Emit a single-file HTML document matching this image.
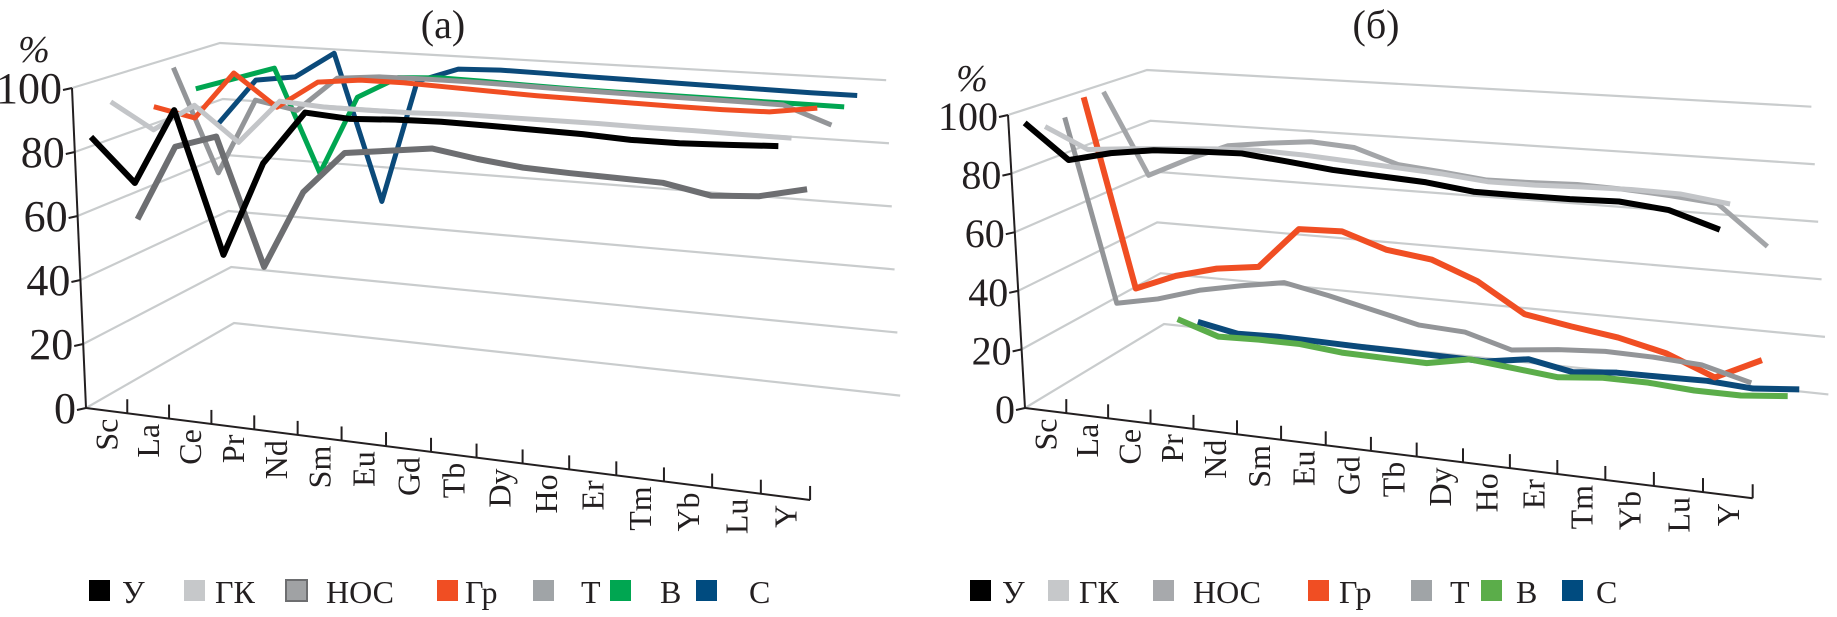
<!DOCTYPE html>
<html><head><meta charset="utf-8">
<style>
html,body{margin:0;padding:0;background:#fff;}
svg{display:block;}
text{font-family:"Liberation Serif","DejaVu Serif",serif;fill:#231f20;}
</style></head>
<body>
<svg id="fig" width="1837" height="617" viewBox="0 0 1837 617" xmlns="http://www.w3.org/2000/svg">
  <g id="chartA"></g>
  <g id="chartB"></g>
</svg>
<script>
// ---- data ----
const categories = ['Sc','La','Ce','Pr','Nd','Sm','Eu','Gd','Tb','Dy','Ho','Er','Tm','Yb','Lu','Y'];
const yTicks = [0,20,40,60,80,100];
const seriesNames = ['У','ГК','НОС','Гр','Т','В','С'];

// chart (a)
const aU   = [83.7,70.3,94,50.4,79.6,96,95,95.7,96,95.8,95.5,95.2,94.5,94.5,95,95.6];
const aGK  = [92.6,84.6,93.3,82.6,96.4,95.5,95.4,95.5,96,96,96,96,95.8,95.8,95.6,95.5];
const aNOS = [52,76.7,81,40.4,65.4,78.8,80.5,82.2,80,78.4,77.8,77.4,77,74.3,75.2,78.3];
const aGr  = [86.4,83.6,99.3,89,98,99.5,99.5,99,98.5,98,97.8,97.6,97.4,97.3,97.5,99.5];
const aT   = [97.2,62.6,88,85.5,97,98.3,98.5,98.5,98.3,98,97.8,97.6,97.5,97.4,97.2,92];
const aV   = [87.6,92,96.4,61.7,88.3,95.7,96.5,96.2,95.8,95.5,95.3,95.3,95.2,95.1,95.1,95];
const aS   = [73,89,91,100,50,92,97,97.5,97.3,97,96.8,96.6,96.4,96.2,96,96];

// chart (б)
const bU   = [96.3,84.6,88,90,90.6,91,89.4,87.7,86.8,85.9,84,83.9,83.9,84.3,82.8,78];
const bGK  = [92.7,85.7,87,88,89,89.5,89,88,87,86,84.5,84.5,85,85.3,85,83];
const bNOS = [93.5,28.5,31.5,36,39,41.5,38.5,35,31.5,30.7,26.3,28,29,28.7,27.8,23.7];
const bGr  = [98.4,30,36,40,42,56.6,57.1,52,50,44,34.3,31.7,29.5,25.9,19.6,26.8];
const bT   = [98,68,75,81,83,84.5,83.5,78.5,77,75.3,75.5,76,75.5,74.5,73,60];
const bV   = [null,10.5,5.5,6,6,4.5,4.2,4,7,5.5,4,5.5,5.5,4.5,4.5,6];
const bS   = [null,5,2,2.5,2.3,2,1.9,1.7,1.5,4,1,2.5,2.7,3,2,3.4];

const NS='http://www.w3.org/2000/svg';
function mk(tag, attrs, parent){
  const el=document.createElementNS(NS,tag);
  for(const k in attrs) el.setAttribute(k, attrs[k]);
  parent.appendChild(el);
  return el;
}
function proj(P,t,v,d){
  const u=(41*t+P.c*t*t)*(1-(1-P.fB)*d);
  const x=P.X0+P.Dx*d+u-P.kx*v;
  const yf=P.Y0+(P.slF+(P.slB-P.slF)*d)*u+P.Dy0*d;
  const s=(P.s0-P.Dyv*d)*(1+P.k*u);
  return [x, yf-v*s];
}

function drawChart(g, P, series, colors, widths, title, legend){
  yTicks.forEach(v=>{
    const a=proj(P,0,v,0), b=proj(P,0,v,1), c=proj(P,16,v,1);
    const pl=mk('polyline',{points:`${a} ${b} ${c}`,fill:'none',stroke:'#c9cccd','stroke-width':2.2},g);
    
    
  });
  const o=proj(P,0,0,0), top=proj(P,0,100,0);
  const ax=mk('line',{x1:o[0],y1:o[1],x2:top[0],y2:top[1],stroke:'#231f20','stroke-width':2},g);
  
  
  yTicks.forEach(v=>{
    const p=proj(P,0,v,0);
    const tk=mk('line',{x1:p[0]-9,y1:p[1]+2,x2:p[0],y2:p[1],stroke:'#231f20','stroke-width':2},g);
    
    
    const tx=mk('text',{x:p[0]-10,y:p[1]+15,'text-anchor':'end','font-size':P.tfs},g);
    tx.textContent=v;
    
    
  });
  const e=proj(P,16,0,0);
  const bl=mk('line',{x1:o[0],y1:o[1],x2:e[0],y2:e[1],stroke:'#231f20','stroke-width':2},g);
  
  
  for(let k=1;k<=16;k++){
    const p=proj(P,k,0,0);
    const tk=mk('line',{x1:p[0],y1:p[1],x2:p[0],y2:p[1]-14,stroke:'#231f20','stroke-width':2},g);
    
    
  }
  categories.forEach((c,i)=>{
    const p=proj(P,i+0.5,0,0);
    const tx=mk('text',{x:0,y:0,'text-anchor':'end','font-size':32,transform:`translate(${p[0]+11},${p[1]+8}) rotate(-90)`},g);
    tx.textContent=c;
    
    
  });
  for(let si=series.length-1;si>=0;si--){
    const d=(2*si+1)/14;
    const pts=[];
    series[si].forEach((v,i)=>{ if(v!==null) pts.push(proj(P,0.15+1.023*i,v,d)); });
    const pl=mk('polyline',{points:pts.map(p=>p.join(',')).join(' '),fill:'none',stroke:colors[si],'stroke-width':widths[si],'stroke-linejoin':'round'},g);
    
    
  }
  const tt=mk('text',{x:P.titleX,y:38,'text-anchor':'middle','font-size':40},g);
  tt.textContent=title;
  
  
  const pc=mk('text',{x:P.pctX,y:P.pctY,'text-anchor':'middle','font-size':38,'font-style':'italic'},g);
  pc.textContent='%';
  
  
  seriesNames.forEach((n,i)=>{
    const sw=mk('rect',{x:legend.sx[i],y:580,width:21,height:21,fill:legend.fill[i],stroke:legend.stroke[i],'stroke-width':legend.stroke[i]==='none'?0:2},g);
    
    
    const tx=mk('text',{x:legend.tx[i],y:603,'font-size':32},g);
    tx.textContent=n;
    
    
  });
}

const PA={X0:86,Y0:408,s0:3.2,Dx:148,Dy0:-85,Dyv:0.4,slF:0.127,slB:0.109,k:0.00019,fB:0.92,c:0.266,kx:0.14,tfs:44,titleX:443,pctX:34,pctY:62};
const PB={X0:1025,Y0:408,s0:2.93,Dx:139,Dy0:-84,Dyv:0.39,slF:0.124,slB:0.106,k:0.0002,fB:0.913,c:0.28,kx:0.17,tfs:40,titleX:1376,pctX:972,pctY:91};

drawChart(document.getElementById('chartA'), PA,
  [aU,aGK,aNOS,aGr,aT,aV,aS],
  ['#000000','#c3c5c8','#6d6e71','#f04e23','#939598','#00a651','#0b4a7a'],
  [6,5,6,5,5,5,5], '(а)',
  {sx:[89,184,286,437,533,610,696], tx:[122,215,326,465,581,660,749],
   fill:['#000','#c6c8ca','#a0a2a4','#f04e23','#a0a4a7','#00a651','#004b7f'],
   stroke:['none','none','#6d6e70','none','none','none','none']});

drawChart(document.getElementById('chartB'), PB,
  [bU,bGK,bNOS,bGr,bT,bV,bS],
  ['#000000','#c3c5c8','#939598','#f04e23','#a3a5a8','#5bad4a','#0b4a7a'],
  [6,5,5,6,5,6,6], '(б)',
  {sx:[970,1048,1153,1308,1411,1481,1562], tx:[1002,1079,1193,1339,1450,1516,1596],
   fill:['#000','#c6c8ca','#a7a9ac','#f04e23','#a0a4a7','#5bad4a','#004b7f'],
   stroke:['none','none','none','none','none','none','none']});
</script>
</body></html>
